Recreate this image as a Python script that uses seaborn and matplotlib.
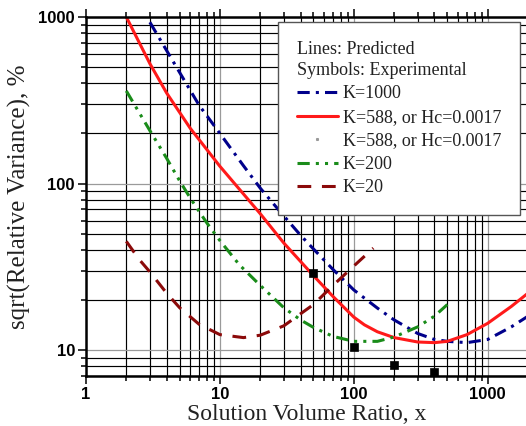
import matplotlib
matplotlib.use("Agg")
import matplotlib.pyplot as plt
import seaborn as sns
import pandas as pd
from matplotlib.ticker import FixedLocator, FuncFormatter, NullFormatter
from matplotlib.lines import Line2D

# ---- data ----
x_k1000 = [3, 5, 7, 10, 15, 20, 25, 30, 40, 50, 70, 100, 150, 200, 300, 400, 500, 700, 1000, 1500, 2000]
y_k1000 = [930, 465, 295, 200, 128, 94, 76, 64, 49, 40.5, 30.5, 23, 17.9, 15.2, 12.6, 11.6, 11.3, 11.1, 11.6, 13.8, 16]

x_k588 = [2, 3, 4, 6, 10, 20, 30, 50, 70, 100, 120, 150, 200, 300, 400, 500, 700, 1000, 1500, 2000]
y_k588 = [1000, 525, 350, 215, 127, 66, 44, 28, 21, 15.8, 14.2, 12.9, 11.9, 11.2, 11.1, 11.3, 12.4, 14.5, 18.3, 22]

x_k200 = [2, 3, 4, 5, 6, 7, 8, 9, 10, 14, 20, 30, 40, 50, 70, 100, 150, 200, 300, 400, 500]
y_k200 = [360, 208, 142, 104, 82, 68, 58, 51, 45.5, 32.5, 24.5, 18, 15.2, 13.7, 12.1, 11.3, 11.3, 12, 13.8, 16, 18.8]

x_k20 = [2, 2.5, 3, 4, 5, 7, 10, 15, 20, 30, 50, 70, 100, 140]
y_k20 = [45, 35, 29.5, 22, 18, 14.3, 12.4, 11.9, 12.3, 14, 18.8, 24.5, 32, 41]

x_exp = [50, 100, 200, 400]
y_exp = [29, 10.4, 8.1, 7.4]

x_ticks = [1, 10, 100, 1000]
y_ticks = [10, 100, 1000]

labels = ["K=1000", "K=588, or Hc=0.0017", "K=588, or Hc=0.0017", "K=200", "K=20"]
legend_title = "Lines: Predicted\nSymbols: Experimental"

# ---- styling ----
sns.set_theme(style="white")
plt.rcParams["font.family"] = ["Liberation Serif", "DejaVu Serif"]

W, H = 526, 426
fig = plt.figure(figsize=(W / 100, H / 100), dpi=100)
ax = fig.add_axes([86 / W, (H - 376) / H, (528 - 86) / W, (376 - 17) / H])

navy = "#00008b"
red = "#ff1a1a"
green = "#1a8c1a"
dred = "#8b0a0a"
lw = 2.2

sns.lineplot(x=x_k1000, y=y_k1000, ax=ax, color=navy, lw=lw, linestyle=(0, (4, 2, 1, 2)), sort=False)
sns.lineplot(x=x_k588, y=y_k588, ax=ax, color=red, lw=lw, linestyle="-", sort=False)
sns.lineplot(x=x_k200, y=y_k200, ax=ax, color=green, lw=lw, linestyle=(0, (4, 2, 1, 2, 1, 2)), sort=False)
sns.lineplot(x=x_k20, y=y_k20, ax=ax, color=dred, lw=lw, linestyle=(0, (4.5, 3.5)), sort=False)
sns.scatterplot(x=x_exp, y=y_exp, ax=ax, marker="s", s=36, color="black", edgecolor="black", zorder=5, clip_on=False)

ax.set_xscale("log")
ax.set_yscale("log")
ax.set_xlim(1, 2000)
ax.set_ylim(7, 1000)

ax.xaxis.set_major_locator(FixedLocator(x_ticks))
ax.yaxis.set_major_locator(FixedLocator(y_ticks))
xminor = [m * 10 ** e for e in range(0, 4) for m in range(2, 10) if m * 10 ** e <= 2000]
yminor = [m * 10 ** e for e in range(0, 3) for m in range(2, 10) if 7 <= m * 10 ** e <= 1000]
ax.xaxis.set_minor_locator(FixedLocator(xminor))
ax.yaxis.set_minor_locator(FixedLocator(yminor))
fmt = FuncFormatter(lambda v, p: "%g" % v)
ax.xaxis.set_major_formatter(fmt)
ax.yaxis.set_major_formatter(fmt)
ax.xaxis.set_minor_formatter(NullFormatter())
ax.yaxis.set_minor_formatter(NullFormatter())

ax.set_axisbelow(True)
ax.grid(which="minor", color="black", lw=0.85)
ax.grid(which="major", color="#9a9a9a", lw=0.9)

for s in ax.spines.values():
    s.set_color("black")
    s.set_linewidth(1.8)

ax.tick_params(which="both", direction="out", color="black", width=1.1,
               top=True, left=True, bottom=True, right=False)
ax.tick_params(which="major", length=6, pad=2)
ax.tick_params(which="minor", length=3.5)
for lab in ax.get_xticklabels() + ax.get_yticklabels():
    lab.set_fontfamily("Liberation Sans")
    lab.set_fontweight("bold")
    lab.set_fontsize(12)
    lab.set_color("black")

ax.set_xlabel("Solution Volume Ratio, x", fontsize=17, color="#222222", labelpad=1)
ax.set_ylabel("sqrt(Relative Variance), %", fontsize=18, color="#222222", labelpad=5)

lines = ax.get_lines()
h_marker = Line2D([], [], marker="s", ls="none", markersize=1.2, color="#999999")
handles = [lines[0], lines[1], h_marker, lines[2], lines[3]]
leg = ax.legend(handles, labels,
                title=legend_title, alignment="left",
                loc="upper right", bbox_to_anchor=(520 / W, 1 - 22 / H),
                bbox_transform=fig.transFigure, borderaxespad=0,
                fancybox=False, framealpha=1, edgecolor="#555555",
                prop={"family": "Liberation Serif", "size": 13},
                title_fontproperties={"family": "Liberation Serif", "size": 13},
                handlelength=2.3, handletextpad=0.25, labelspacing=0.36, borderpad=1.05)
leg.get_frame().set_linewidth(1.0)
for t in leg.get_texts():
    t.set_color("#222222")
leg.get_title().set_color("#222222")
leg.get_title().set_linespacing(1.3)

fig.savefig("out.png", dpi=100)
